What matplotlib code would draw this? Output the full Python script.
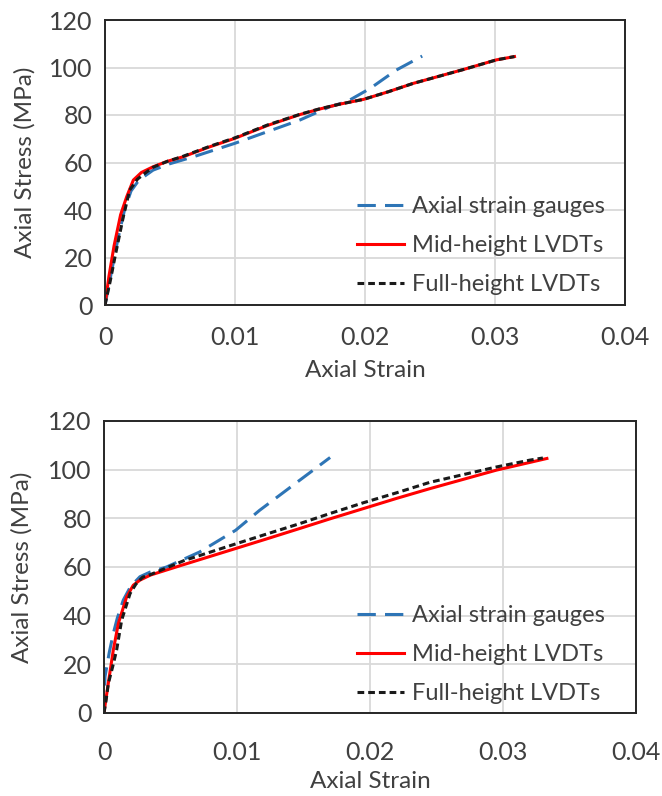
import matplotlib
matplotlib.use("Agg")
import matplotlib.pyplot as plt

plt.rcParams['font.family'] = ['Lato', 'DejaVu Sans']

# top test
top_sg_strain = [0, 0.0005, 0.001, 0.0015, 0.002, 0.0026, 0.0037, 0.005, 0.0068, 0.01, 0.0125, 0.015, 0.0173, 0.0186, 0.0204, 0.0224, 0.0244]
top_sg_stress = [0, 14, 28, 40, 48, 52.5, 56.8, 59.5, 62.4, 68.1, 73, 77.9, 83.5, 85.6, 91.2, 98.9, 104.8]
top_mid_strain = [0, 0.0003, 0.0007, 0.0012, 0.00167, 0.00218, 0.0028, 0.0037, 0.0048, 0.006, 0.008, 0.01, 0.0125, 0.015, 0.0165, 0.018, 0.0199, 0.0218, 0.0237, 0.0276, 0.0301, 0.0315]
top_mid_stress = [0, 12, 25, 38, 45.6, 52.6, 55.8, 58.2, 60.5, 62.4, 66.5, 70.2, 75.6, 80.2, 82.5, 84.5, 86.6, 89.8, 93.3, 99.2, 103.2, 104.6]
top_full_strain = [0, 0.0004, 0.00077, 0.0011, 0.00141, 0.0019, 0.0025, 0.0032, 0.0037, 0.0048, 0.006, 0.008, 0.01, 0.0125, 0.015, 0.0165, 0.018, 0.0199, 0.0218, 0.0237, 0.0276, 0.0301, 0.0315]
top_full_stress = [0, 10, 20.3, 29, 37.2, 48.4, 53, 56, 58, 60.5, 62.6, 66.7, 70.4, 75.8, 80.3, 82.6, 84.5, 86.6, 89.8, 93.3, 99.2, 103.2, 104.6]

# bottom test
bot_sg_strain = [0, 0.000075, 0.0004, 0.0007, 0.001, 0.00145, 0.002, 0.0027, 0.0035, 0.0047, 0.0072, 0.0099, 0.0117, 0.0147, 0.017]
bot_sg_stress = [0, 14.9, 25, 32.7, 39, 46.4, 52, 56, 58, 60, 66.2, 75.1, 83.3, 95.6, 105]
bot_mid_strain = [0, 0.0001, 0.0004, 0.0007, 0.00108, 0.0017, 0.0022, 0.0027, 0.0035, 0.006, 0.0099, 0.0122, 0.0147, 0.017, 0.0195, 0.022, 0.0245, 0.0295, 0.0333]
bot_mid_stress = [0, 4, 15, 25.9, 36.8, 47.7, 52.5, 54.6, 56.7, 61, 67.6, 71.5, 75.8, 79.8, 84, 88.2, 92.2, 99.8, 104.6]
bot_full_strain = [0, 0.00015, 0.00033, 0.00065, 0.00095, 0.00133, 0.00196, 0.0024, 0.0029, 0.0035, 0.006, 0.0099, 0.0122, 0.0147, 0.017, 0.0195, 0.022, 0.0245, 0.0295, 0.032, 0.033]
bot_full_stress = [0, 5, 12.2, 19, 25.9, 38.2, 49.1, 53, 55.8, 56.9, 62.6, 69.5, 73.5, 77.8, 82, 86.4, 90.5, 94.8, 101.1, 103.9, 104.8]

x_ticks = [0, 0.01, 0.02, 0.03, 0.04]
x_tick_labels = ['0', '0.01', '0.02', '0.03', '0.04']
y_ticks = [0, 20, 40, 60, 80, 100, 120]

labels = ['Axial strain gauges', 'Mid-height LVDTs', 'Full-height LVDTs']

blue = '#2E75B6'
red = '#FF0000'
text_col = '#404040'

fig = plt.figure(figsize=(6.62, 7.96), dpi=100)
ax1 = fig.add_axes([105/662, 1-305/796, 520/662, 285/796])
ax2 = fig.add_axes([104/662, 1-713/796, 532/662, 292/796])


def draw_panel(ax, sg, mid, full, leg_anchor, xpad, xlabpad, ylabpad):
    ax.plot(sg[0], sg[1], color=blue, lw=2.2, dashes=(6, 3), label=labels[0])
    ax.plot(mid[0], mid[1], color=red, lw=2.2, label=labels[1])
    ax.plot(full[0], full[1], color='#1a1a1a', lw=2.2, dashes=(2.2, 1.3), label=labels[2])
    ax.set_xlim(0, 0.04)
    ax.set_ylim(0, 120)
    ax.set_xticks(x_ticks)
    ax.set_xticklabels(x_tick_labels)
    ax.set_yticks(y_ticks)
    ax.grid(True, color='#D9D9D9', lw=1.3)
    ax.set_axisbelow(True)
    ax.tick_params(length=0, labelsize=18, colors=text_col)
    ax.tick_params(axis='x', pad=xpad)
    ax.tick_params(axis='y', pad=9)
    for s in ax.spines.values():
        s.set_color('#262626')
        s.set_linewidth(1.4)
    ax.set_xlabel('Axial Strain', fontsize=17.5, color=text_col, labelpad=xlabpad)
    ax.set_ylabel('Axial Stress (MPa)', fontsize=17.5, color=text_col, labelpad=ylabpad)
    ax.legend(loc='upper left', bbox_to_anchor=leg_anchor, frameon=False, fontsize=17,
              handlelength=2.0, handletextpad=0.3, labelspacing=0.76,
              borderpad=0, borderaxespad=0, labelcolor=text_col)


draw_panel(ax1, (top_sg_strain, top_sg_stress), (top_mid_strain, top_mid_stress),
           (top_full_strain, top_full_stress), (0.485, 0.382), 15, 8, 10)
draw_panel(ax2, (bot_sg_strain, bot_sg_stress), (bot_mid_strain, bot_mid_stress),
           (bot_full_strain, bot_full_stress), (0.476, 0.37), 20, 5, 11)

fig.savefig('out.png', dpi=100)
